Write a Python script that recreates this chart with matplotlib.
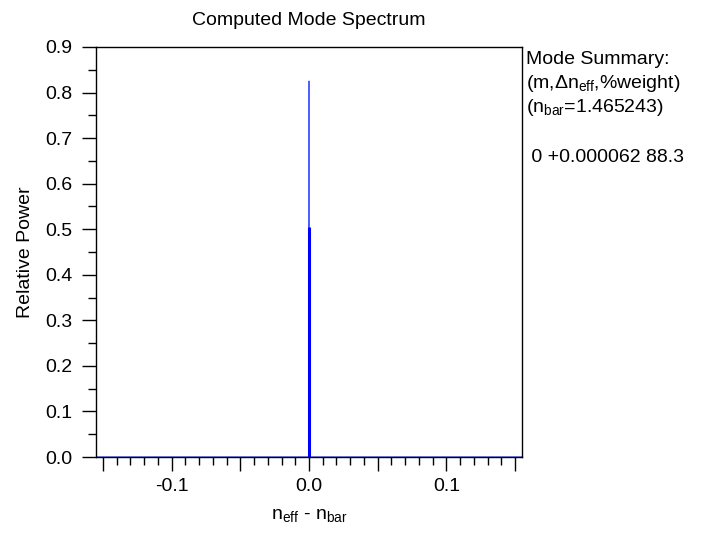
import matplotlib
matplotlib.use("Agg")
import matplotlib.pyplot as plt
from matplotlib.ticker import MultipleLocator

plt.rcParams['font.family'] = ['Liberation Sans', 'DejaVu Sans']

# spectrum trace (relative power vs n_eff - n_bar)
spec_x = [-0.155, 0.00005, 0.000062, 0.000075, 0.155]
spec_y = [0.0, 0.0, 0.825, 0.0, 0.0]

# mode stems
mode_dn = [0.000062]
mode_power = [0.505]

n_bar = 1.465243
mode_rows = [(0, "+0.000062", "88.3")]

FS = 14

fig = plt.figure(figsize=(7.05, 5.38), dpi=100)
ax = fig.add_axes([96 / 705, 81 / 538, 426 / 705, 410 / 538])

ax.plot(spec_x, spec_y, color='#5060ff', lw=1.0)
ax.vlines(mode_dn, 0, mode_power, color='#0000ff', lw=2.2)

ax.set_xlim(-0.155, 0.155)
ax.set_ylim(0, 0.9)


def xfmt(v, p):
    # label only the tenths
    if abs(round(v * 10) - v * 10) > 1e-6:
        return ""
    return f"{v:.1f}".replace("-0.0", "0.0")


ax.xaxis.set_major_locator(MultipleLocator(0.05))
ax.xaxis.set_minor_locator(MultipleLocator(0.01))
ax.yaxis.set_major_locator(MultipleLocator(0.1))
ax.yaxis.set_minor_locator(MultipleLocator(0.05))
ax.xaxis.set_major_formatter(xfmt)
ax.yaxis.set_major_formatter(lambda v, p: f"{v:.1f}")

ax.tick_params(axis='both', which='major', direction='out', length=10, width=1,
               labelsize=FS, color='black', pad=7)
ax.tick_params(axis='both', which='minor', direction='out', length=6, width=1)
ax.tick_params(axis='x', which='major', pad=5)

for s in ax.spines.values():
    s.set_linewidth(1.0)

ax.set_title("Computed Mode Spectrum", fontsize=FS, pad=16)
ax.set_ylabel("Relative Power", fontsize=FS, labelpad=8)
ax.set_xlabel(r"n$_{\mathregular{eff}}$ - n$_{\mathregular{bar}}$", fontsize=FS, labelpad=9)

lines = ["Mode Summary:",
         r"(m,$\mathregular{\Delta}$n$_{\mathregular{eff}}$,%weight)",
         r"(n$_{\mathregular{bar}}$=" + f"{n_bar:.6f})",
         ""]
for m, dn, w in mode_rows:
    lines.append(f" {m} {dn} {w}")

y = 59
for ln in lines:
    fig.text(526 / 705, 1 - y / 538, ln, fontsize=FS, ha='left', va='center')
    y += 24.5

fig.savefig("out.png", dpi=100)
